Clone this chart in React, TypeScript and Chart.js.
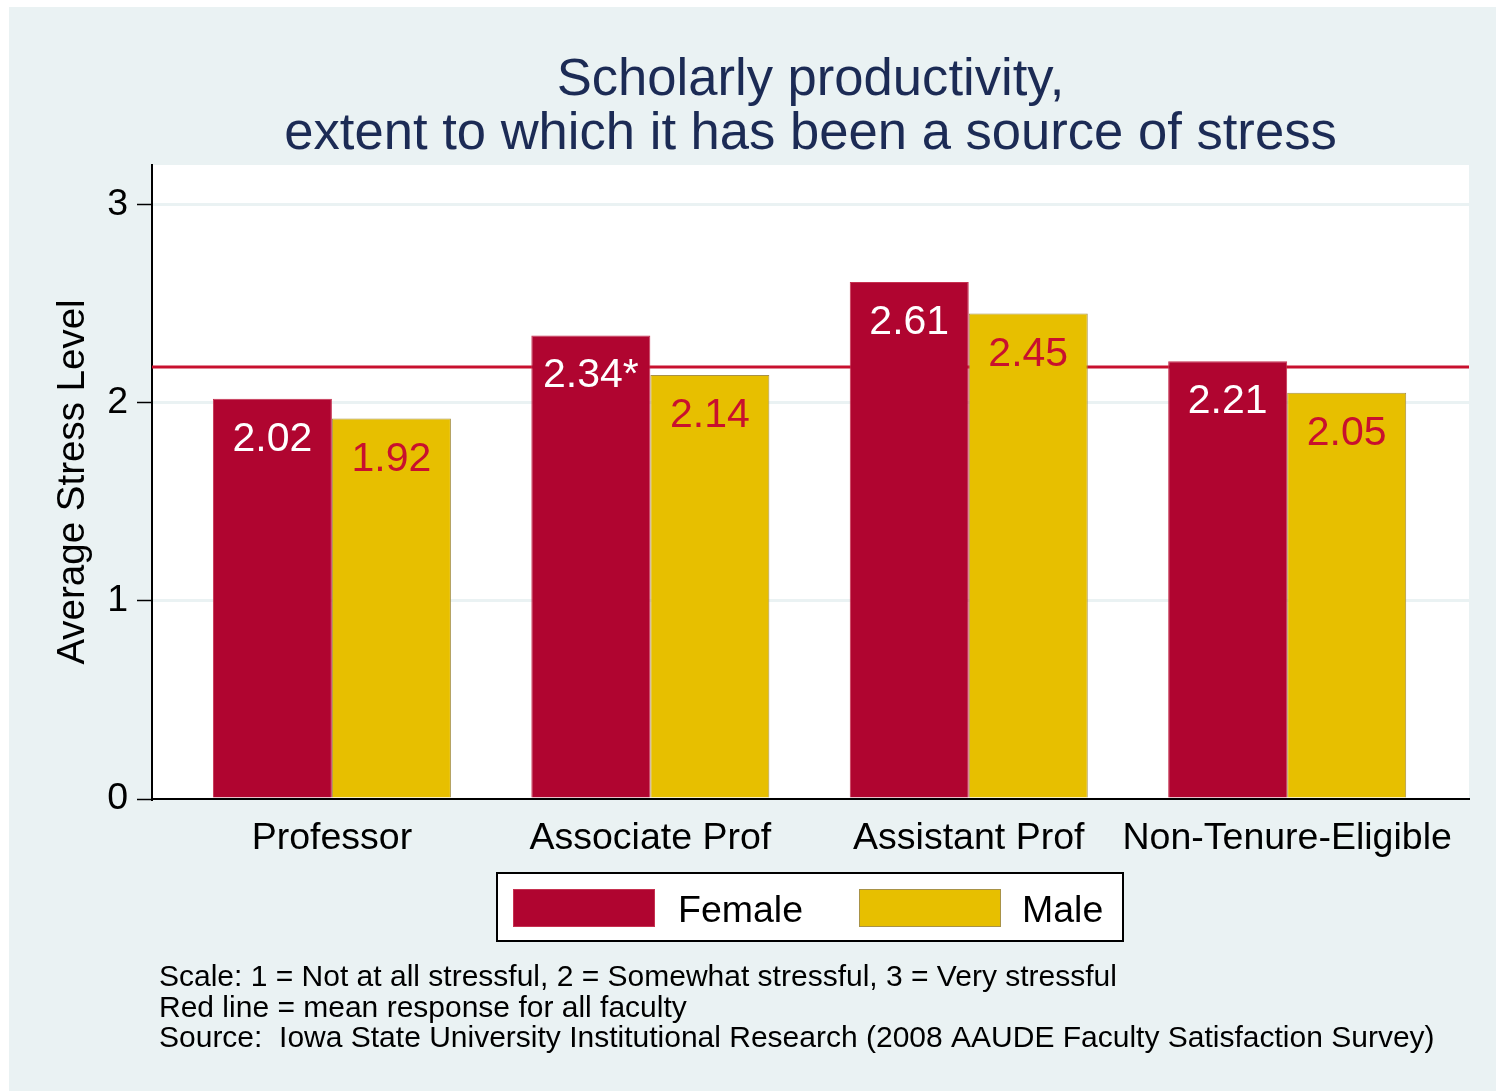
import React, { useEffect, useRef } from 'react';
import { Chart, registerables } from 'chart.js';

Chart.register(...registerables);

// ---- data ----
const categories = ['Professor', 'Associate Prof', 'Assistant Prof', 'Non-Tenure-Eligible'];
const femaleValues = [2.02, 2.34, 2.61, 2.21];
const maleValues = [1.92, 2.14, 2.45, 2.05];
const femaleMarks = ['', '*', '', ''];
const maleMarks = ['', '', '', ''];
const allFacultyMean = 2.18;
const yTicks = [0, 1, 2, 3];
const yMax = 3.2;
const xMin = -0.565;
const xMax = 3.571;
const seriesNames = ['Female', 'Male'];
const titleLines = ['Scholarly productivity,', 'extent to which it has been a source of stress'];
const yTitle = 'Average Stress Level';
const noteLines = [
  'Scale: 1 = Not at all stressful, 2 = Somewhat stressful, 3 = Very stressful',
  'Red line = mean response for all faculty',
  'Source:  Iowa State University Institutional Research (2008 AAUDE Faculty Satisfaction Survey)',
];

// ---- styles ----
const FONT = '"Liberation Sans", Arial, Helvetica, sans-serif';
const PANEL = '#eaf2f3';
const FEMALE = '#b00530';
const FEMALE_BORDER = '#c63150';
const MALE = '#e7bf00';
const MALE_BORDER = '#a89248';
const LINE_RED = '#c8102e';
const TITLE_COLOR = '#1c2b55';
const W = 1487;
const H = 1084;

const panelPlugin = {
  id: 'panelPlugin',
  beforeDraw(chart: any) {
    const { ctx, chartArea } = chart;
    ctx.save();
    ctx.fillStyle = PANEL;
    ctx.fillRect(0, 0, chart.width, chart.height);
    ctx.fillStyle = '#ffffff';
    ctx.fillRect(chartArea.left, chartArea.top, chartArea.right - chartArea.left, chartArea.bottom - chartArea.top);
    ctx.restore();
  },
  afterDraw(chart: any) {
    const { ctx, chartArea } = chart;
    const cx = (chartArea.left + chartArea.right) / 2;
    ctx.save();
    // title
    ctx.fillStyle = TITLE_COLOR;
    ctx.font = `52.6px ${FONT}`;
    ctx.textAlign = 'center';
    ctx.textBaseline = 'alphabetic';
    ctx.fillText(titleLines[0], cx, 88);
    ctx.fillText(titleLines[1], cx, 142);

    // legend
    const bars = chart.data.datasets.filter((d: any) => d.type !== 'line');
    const boxL = 488, boxT = 866, boxW = 626, boxH = 68;
    ctx.fillStyle = '#ffffff';
    ctx.fillRect(boxL, boxT, boxW, boxH);
    ctx.strokeStyle = '#000000';
    ctx.lineWidth = 2;
    ctx.strokeRect(boxL, boxT, boxW, boxH);
    const swX = [504, 850];
    const txX = [669, 1013];
    ctx.font = `37.5px ${FONT}`;
    ctx.textAlign = 'left';
    ctx.textBaseline = 'middle';
    bars.forEach((d: any, i: number) => {
      ctx.fillStyle = d.backgroundColor;
      ctx.fillRect(swX[i], 882, 142, 38);
      ctx.strokeStyle = d.borderColor;
      ctx.lineWidth = 1;
      ctx.strokeRect(swX[i] + 0.5, 882.5, 141, 37);
      ctx.fillStyle = '#000000';
      ctx.fillText(d.label, txX[i], 905);
    });

    // notes
    ctx.font = `30px ${FONT}`;
    ctx.fillStyle = '#000000';
    ctx.textBaseline = 'middle';
    noteLines.forEach((line, i) => {
      ctx.fillText(line, 150, 971 + i * 30.5);
    });
    ctx.restore();
  },
  afterDatasetsDraw(chart: any) {
    const { ctx } = chart;
    ctx.save();
    ctx.font = `41px ${FONT}`;
    ctx.textAlign = 'center';
    ctx.textBaseline = 'alphabetic';
    chart.data.datasets.forEach((d: any, di: number) => {
      if (d.type === 'line') return;
      const meta = chart.getDatasetMeta(di);
      meta.data.forEach((el: any, i: number) => {
        const v = d.data[i].y;
        const txt = v.toFixed(2) + (d.marks[i] || '');
        ctx.fillStyle = d.labelColor;
        ctx.fillText(txt, el.x, el.y + 52);
      });
    });
    ctx.restore();
  },
};

export default function App() {
  const ref = useRef<HTMLCanvasElement | null>(null);

  useEffect(() => {
    if (!ref.current) return;
    const chart = new Chart(ref.current, {
      type: 'bar',
      data: {
        datasets: [
          {
            type: 'line',
            label: 'Mean',
            data: [
              { x: xMin, y: allFacultyMean },
              { x: xMax, y: allFacultyMean },
            ],
            borderColor: LINE_RED,
            borderWidth: 3,
            pointRadius: 0,
            order: 5,
          } as any,
          {
            label: seriesNames[0],
            data: femaleValues.map((v, i) => ({ x: i, y: v })),
            backgroundColor: FEMALE,
            borderColor: FEMALE_BORDER,
            borderWidth: 1,
            order: 1,
            marks: femaleMarks,
            labelColor: '#ffffff',
          } as any,
          {
            label: seriesNames[1],
            data: maleValues.map((v, i) => ({ x: i, y: v })),
            backgroundColor: MALE,
            borderColor: MALE_BORDER,
            borderWidth: 1,
            order: 1,
            marks: maleMarks,
            labelColor: LINE_RED,
          } as any,
        ],
      },
      options: {
        responsive: false,
        animation: false,
        devicePixelRatio: 1,
        categoryPercentage: 0.7475,
        barPercentage: 1,
        layout: { padding: { left: 0, right: 27, top: 158, bottom: 232 } },
        plugins: {
          legend: { display: false },
          title: { display: false },
          tooltip: { enabled: false },
        },
        scales: {
          x: {
            type: 'linear',
            min: xMin,
            max: xMax,
            offset: false,
            grid: { display: false, offset: false },
            border: { display: true, color: '#000000', width: 2 },
            afterBuildTicks: (scale: any) => {
              scale.ticks = categories.map((_, i) => ({ value: i }));
            },
            afterFit: (scale: any) => {
              scale.height = 60;
            },
            ticks: {
              padding: 9,
              color: '#000000',
              font: { family: FONT, size: 37.5 },
              maxRotation: 0,
              autoSkip: false,
              callback: (_v: any, i: number) => categories[i],
            },
          } as any,
          y: {
            type: 'linear',
            min: 0,
            max: yMax,
            afterBuildTicks: (scale: any) => {
              scale.ticks = yTicks.map((v) => ({ value: v }));
            },
            afterFit: (scale: any) => {
              scale.width = 143;
            },
            grid: {
              color: (c: any) => (c.tick && c.tick.value === 0 ? 'rgba(0,0,0,0)' : PANEL),
              lineWidth: 3,
              tickColor: '#000000',
              tickWidth: 1.5,
              tickLength: 15,
            },
            border: { display: true, color: '#000000', width: 2 },
            ticks: {
              padding: 9,
              color: '#000000',
              font: { family: FONT, size: 37.5 },
              callback: (v: any) => String(v),
            },
            title: {
              display: true,
              text: yTitle,
              color: '#000000',
              font: { family: FONT, size: 38.5, lineHeight: 1 },
              padding: { top: 45, bottom: 0 },
            },
          } as any,
        },
      },
      plugins: [panelPlugin],
    } as any);
    return () => chart.destroy();
  }, []);

  return (
    <div style={{ position: 'fixed', left: 9, top: 7, width: W, height: H, overflow: 'hidden' }}>
      <canvas ref={ref} width={W} height={H} style={{ width: W, height: H, display: 'block' }} />
    </div>
  );
}
